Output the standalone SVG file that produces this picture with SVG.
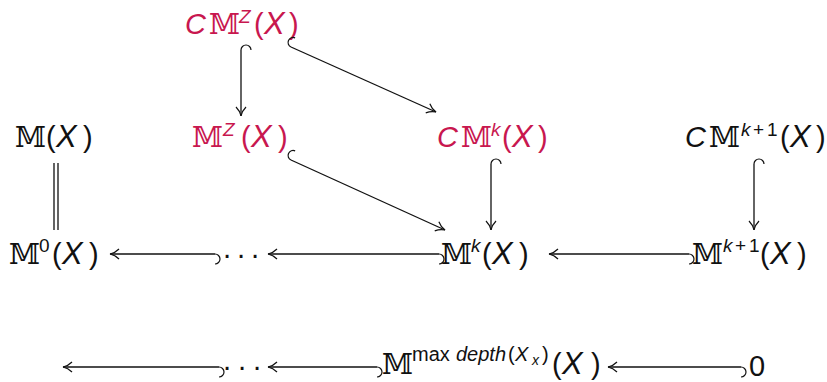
<svg xmlns="http://www.w3.org/2000/svg" width="827" height="382" viewBox="0 0 827 382">
<style>
.t{font-family:"Liberation Sans","DejaVu Sans",sans-serif;font-size:29px;fill:#111}
.bb{font-family:"DejaVu Serif","DejaVu Sans",serif;font-size:28px}
.it{font-style:italic}
.x{font-size:31px}
.sup{font-size:19px}
.s2{font-size:20px}
.sub{font-size:14px}
.red{fill:#c8174f}
.dots{text-anchor:middle}
.c{fill:none;stroke:#111;stroke-width:1.3}
</style>
<defs>
<marker id="ah" markerUnits="userSpaceOnUse" orient="auto" overflow="visible" markerWidth="10" markerHeight="10" refX="0" refY="0">
<path d="M-9,-5 C-6,-2 -3,-0.6 0,0 C-3,0.6 -6,2 -9,5" fill="none" stroke="#111" stroke-width="1.2"/>
</marker>
<marker id="hk" markerUnits="userSpaceOnUse" orient="auto" overflow="visible" markerWidth="10" markerHeight="10" refX="0" refY="0">
<path d="M0,0 A5,5 0 0 1 0,-10" fill="none" stroke="#111" stroke-width="1.2"/>
</marker>
</defs>

<g id="n-cmz"><text class="t red"><tspan class="it" x="185" y="34">C</tspan><tspan class="bb" x="209">𝕄</tspan><tspan class="it sup" x="239" y="23">Z</tspan><tspan x="254" y="34">(</tspan><tspan class="it x" x="264">X</tspan><tspan x="289">)</tspan></text></g>

<g id="n-m"><text class="t"><tspan class="bb" x="15" y="147">𝕄</tspan><tspan x="46">(</tspan><tspan class="it x" x="56">X</tspan><tspan x="83">)</tspan></text></g>

<g id="n-mz"><text class="t red"><tspan class="bb" x="192" y="147">𝕄</tspan><tspan class="it sup" x="223" y="136">Z</tspan><tspan x="241" y="147">(</tspan><tspan class="it x" x="251">X</tspan><tspan x="278">)</tspan></text></g>

<g id="n-cmk"><text class="t red"><tspan class="it" x="437" y="147">C</tspan><tspan class="bb" x="461">𝕄</tspan><tspan class="it sup" x="491" y="136">k</tspan><tspan x="502" y="147">(</tspan><tspan class="it x" x="512">X</tspan><tspan x="538">)</tspan></text></g>

<g id="n-cmk1"><text class="t"><tspan class="it" x="685" y="147">C</tspan><tspan class="bb" x="709">𝕄</tspan><tspan class="sup" x="741" y="136"><tspan class="it">k</tspan><tspan x="753">+</tspan><tspan x="767">1</tspan></tspan><tspan x="780" y="147">(</tspan><tspan class="it x" x="790">X</tspan><tspan x="816">)</tspan></text></g>

<g id="n-m0"><text class="t"><tspan class="bb" x="9" y="264">𝕄</tspan><tspan class="sup" x="39" y="252">0</tspan><tspan x="52" y="264">(</tspan><tspan class="it x" x="62">X</tspan><tspan x="89">)</tspan></text></g>

<g id="n-dots1"><text class="t dots" x="227 241 255" y="264">···</text></g>

<g id="n-mk"><text class="t"><tspan class="bb" x="441" y="264">𝕄</tspan><tspan class="it sup" x="471" y="252">k</tspan><tspan x="482" y="264">(</tspan><tspan class="it x" x="492">X</tspan><tspan x="519">)</tspan></text></g>

<g id="n-mk1"><text class="t"><tspan class="bb" x="692" y="264">𝕄</tspan><tspan class="sup" x="723" y="252"><tspan class="it">k</tspan><tspan x="735">+</tspan><tspan x="749">1</tspan></tspan><tspan x="760" y="264">(</tspan><tspan class="it x" x="770">X</tspan><tspan x="797">)</tspan></text></g>

<g id="n-dots2"><text class="t dots" x="227 242 257" y="376">···</text></g>

<g id="n-mmax"><text class="t"><tspan class="bb" x="382" y="374">𝕄</tspan><tspan class="s2" x="412" y="361">max</tspan><tspan class="s2 it" x="456">depth</tspan><tspan class="s2" x="508">(</tspan><tspan class="s2 it" x="515">X</tspan><tspan class="sub it" x="532" y="365">x</tspan><tspan class="s2" x="542" y="361">)</tspan><tspan x="552" y="374">(</tspan><tspan class="it x" x="562">X</tspan><tspan x="591">)</tspan></text></g>

<g id="n-zero"><text class="t"><tspan x="749" y="376">0</tspan></text></g>

<g id="connectors" class="c">
<path d="M241,50 L241,116" marker-start="url(#hk)" marker-end="url(#ah)"/>
<path d="M291,47 L436,112" marker-start="url(#hk)" marker-end="url(#ah)"/>
<path d="M291,160 L445,230" marker-start="url(#hk)" marker-end="url(#ah)"/>
<path d="M491,164 L491,230" marker-start="url(#hk)" marker-end="url(#ah)"/>
<path d="M754,164 L754,230" marker-start="url(#hk)" marker-end="url(#ah)"/>
<path d="M54,163 L54,230 M58,163 L58,230"/>
<path d="M215,254 L110,254" marker-start="url(#hk)" marker-end="url(#ah)"/>
<path d="M439,254 L268,254" marker-start="url(#hk)" marker-end="url(#ah)"/>
<path d="M689,254 L549,254" marker-start="url(#hk)" marker-end="url(#ah)"/>
<path d="M219,367 L63,367" marker-start="url(#hk)" marker-end="url(#ah)"/>
<path d="M377,367 L268,367" marker-start="url(#hk)" marker-end="url(#ah)"/>
<path d="M741,367 L608,367" marker-start="url(#hk)" marker-end="url(#ah)"/>
</g>
</svg>
